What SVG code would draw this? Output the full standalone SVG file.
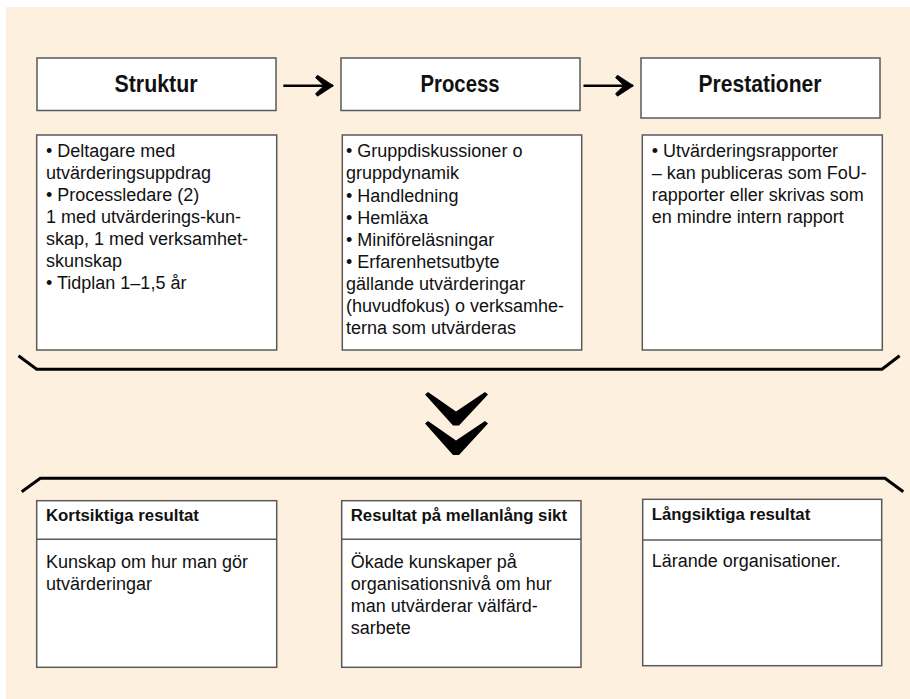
<svg xmlns="http://www.w3.org/2000/svg" width="910" height="699" viewBox="0 0 910 699">
<defs>
<style>
.bg{fill:#fdf0df}
.box{fill:#fff;stroke:#5a5a5a;stroke-width:1.5}
.title{font-family:"Liberation Sans",Arial,sans-serif;font-weight:bold;font-size:24px;fill:#111;text-anchor:middle}
.body{font-family:"Liberation Sans",Arial,sans-serif;font-size:18px;fill:#111}
.head{font-family:"Liberation Sans",Arial,sans-serif;font-weight:bold;font-size:16.8px;fill:#111}
.conn{stroke:#000;stroke-width:2.6;fill:none}
.brk{stroke:#000;stroke-width:3;fill:none}
.chev{fill:#000}
</style>
<marker id="ah" markerUnits="userSpaceOnUse" markerWidth="20" markerHeight="22" refX="18" refY="11" orient="auto">
<path d="M18.5,11 L2.5,0.5 L0.5,3 L9,11 L0.5,19 L2.5,21.5 Z" fill="#000" stroke="#000" stroke-width="0.8" stroke-linejoin="round"/>
</marker>
</defs>
<rect class="bg" x="6" y="7" width="904" height="692"/>

<g id="struktur">
<rect class="box" x="37" y="58" width="239" height="52.5"/>
<text class="title" x="156" y="91.5" textLength="83" lengthAdjust="spacingAndGlyphs">Struktur</text>
</g>
<g id="process">
<rect class="box" x="341" y="58" width="239" height="52.5"/>
<text class="title" x="460" y="91.5" textLength="79" lengthAdjust="spacingAndGlyphs">Process</text>
</g>
<g id="prestationer">
<rect class="box" x="641" y="58" width="239" height="60"/>
<text class="title" x="760" y="91.5" textLength="123" lengthAdjust="spacingAndGlyphs">Prestationer</text>
</g>

<g id="struktur-detaljer">
<rect class="box" x="36.7" y="135" width="240" height="215"/>
<text class="body">
<tspan x="46" y="157">• Deltagare med</tspan>
<tspan x="46" y="179">utvärderingsuppdrag</tspan>
<tspan x="46" y="201">• Processledare (2)</tspan>
<tspan x="46" y="223">1 med utvärderings-kun-</tspan>
<tspan x="46" y="245">skap, 1 med verksamhet-</tspan>
<tspan x="46" y="267">skunskap</tspan>
<tspan x="46" y="289">• Tidplan 1–1,5 år</tspan>
</text>
</g>
<g id="process-detaljer">
<rect class="box" x="342.3" y="135" width="239.4" height="215"/>
<text class="body">
<tspan x="346" y="157.3">• Gruppdiskussioner o</tspan>
<tspan x="346" y="179.4">gruppdynamik</tspan>
<tspan x="346" y="201.5">• Handledning</tspan>
<tspan x="346" y="223.6">• Hemläxa</tspan>
<tspan x="346" y="245.7">• Miniföreläsningar</tspan>
<tspan x="346" y="267.8">• Erfarenhetsutbyte</tspan>
<tspan x="346" y="289.9">gällande utvärderingar</tspan>
<tspan x="346" y="312">(huvudfokus) o verksamhe-</tspan>
<tspan x="346" y="334.1">terna som utvärderas</tspan>
</text>
</g>
<g id="prestationer-detaljer">
<rect class="box" x="642.3" y="135" width="240" height="215"/>
<text class="body">
<tspan x="651.7" y="157">• Utvärderingsrapporter</tspan>
<tspan x="651.7" y="179">– kan publiceras som FoU-</tspan>
<tspan x="651.7" y="201">rapporter eller skrivas som</tspan>
<tspan x="651.7" y="223">en mindre intern rapport</tspan>
</text>
</g>

<g id="kortsiktiga">
<rect class="box" x="36.7" y="500.7" width="240" height="166.6"/>
<line x1="36.7" y1="539.3" x2="276.7" y2="539.3" stroke="#5a5a5a" stroke-width="1.5"/>
<text class="head" x="46" y="521">Kortsiktiga resultat</text>
<text class="body">
<tspan x="46" y="568.3">Kunskap om hur man gör</tspan>
<tspan x="46" y="590.3">utvärderingar</tspan>
</text>
</g>
<g id="mellanlang">
<rect class="box" x="341.7" y="500.7" width="239.3" height="166.6"/>
<line x1="341.7" y1="539.3" x2="581" y2="539.3" stroke="#5a5a5a" stroke-width="1.5"/>
<text class="head" x="350.7" y="521">Resultat på mellanlång sikt</text>
<text class="body">
<tspan x="350.7" y="568.3">Ökade kunskaper på</tspan>
<tspan x="350.7" y="590.3">organisationsnivå om hur</tspan>
<tspan x="350.7" y="612.3">man utvärderar välfärd-</tspan>
<tspan x="350.7" y="634.3">sarbete</tspan>
</text>
</g>
<g id="langsiktiga">
<rect class="box" x="642.7" y="499.3" width="239" height="166.4"/>
<line x1="642.7" y1="540" x2="881.7" y2="540" stroke="#5a5a5a" stroke-width="1.5"/>
<text class="head" x="651.7" y="519.5">Långsiktiga resultat</text>
<text class="body">
<tspan x="651.7" y="566.7">Lärande organisationer.</tspan>
</text>
</g>

<g id="connectors">
<line class="conn" x1="283.3" y1="85.7" x2="333" y2="85.7" marker-end="url(#ah)"/>
<line class="conn" x1="583.5" y1="85.7" x2="633" y2="85.7" marker-end="url(#ah)"/>
<polyline class="brk" points="18.5,355.7 36.7,369.3 882,369.3 899.6,355.7"/>
<polyline class="brk" points="21.7,491.7 40.3,478.3 885,478.3 903.3,491.7"/>
<polygon class="chev" points="425,394.5 428,392 456,411.5 485,392 488,394.5 459,425.5 453,425.5"/>
<polygon class="chev" points="425,423.5 428,421 456,440.5 485,421 488,423.5 459,455 453,455"/>
</g>
</svg>
